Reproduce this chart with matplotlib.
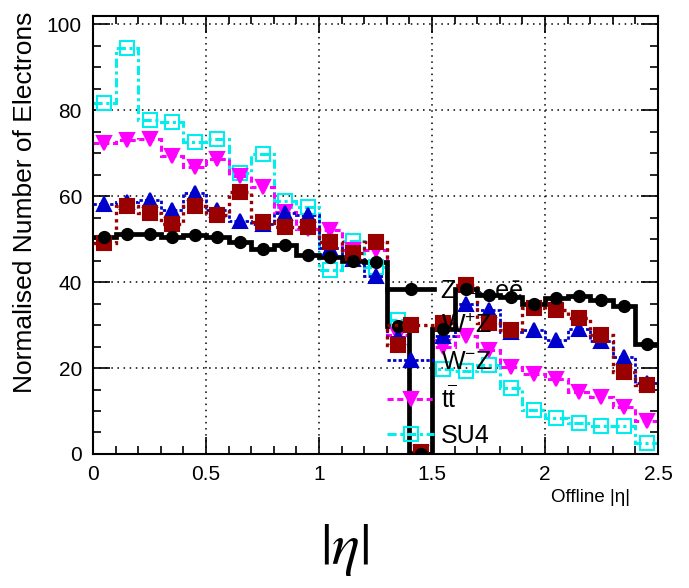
import numpy as np
import matplotlib
matplotlib.use('Agg')
import matplotlib.pyplot as plt
from matplotlib.lines import Line2D
from matplotlib.ticker import MultipleLocator

plt.rcParams['font.family'] = ['Liberation Sans', 'DejaVu Sans']
plt.rcParams['mathtext.fontset'] = 'custom'
plt.rcParams['mathtext.rm'] = 'Liberation Sans'
plt.rcParams['mathtext.it'] = 'Liberation Sans:italic'

# 25 bins of offline |eta|, width 0.1
eta_edges = np.linspace(0.0, 2.5, 26)

zee = [50.5, 51.1, 51.1, 50.4, 51.0, 50.4, 49.4, 47.8, 48.6, 46.3,
       45.9, 44.9, 44.7, 29.8, 0.0, 29.0, 38.5, 37.0, 36.5, 35.0,
       36.3, 36.7, 35.8, 34.5, 25.7]
wpz = [49.0, 57.7, 56.0, 53.5, 57.7, 55.6, 61.0, 54.0, 52.9, 52.9,
       49.4, 46.7, 49.4, 25.3, 0.5, 30.5, 39.3, 30.5, 28.8, 33.9,
       33.5, 31.6, 27.6, 19.0, 16.0]
wmz = [58.1, 58.7, 59.2, 56.7, 60.8, 56.9, 54.2, 53.6, 56.0, 55.6,
       48.0, 45.5, 41.4, 27.3, 0.3, 27.5, 35.0, 33.5, 28.5, 28.8,
       26.6, 29.2, 26.2, 22.6, 16.5]
ttbar = [72.4, 73.0, 73.4, 69.3, 66.7, 68.6, 64.7, 62.2, 56.4, 52.3,
         52.1, 47.4, 47.5, 27.8, 0.3, 25.0, 27.5, 24.2, 20.3, 18.5,
         17.5, 14.5, 13.3, 11.0, 7.6]
su4 = [81.7, 94.6, 77.7, 77.3, 72.6, 73.3, 65.3, 69.9, 58.9, 57.4,
       42.8, 49.6, 43.5, 31.2, 0.3, 19.8, 19.3, 20.6, 15.4, 10.2,
       8.3, 7.1, 6.6, 6.5, 2.5]

labels = ['Z → eē', r'W$^{+}$Z', r'W$^{-}$Z', r't$\overline{\mathrm{t}}$', 'SU4']
colors = ['black', '#990000', '#0000cc', '#ff00ff', '#00eeee']

centers = 0.5 * (eta_edges[:-1] + eta_edges[1:])

fig = plt.figure(figsize=(6.89, 5.88), dpi=100)
ax = fig.add_axes([0.135, 0.228, 0.82, 0.745])

# drawn bottom-up: SU4 first, Z->ee on top
styles = [
    # values, color, linestyle, lw, marker, ms, filled
    (su4, colors[4], (0, (3, 1.2, 1, 1.2)), 2.2, 's', 10, False),
    (ttbar, colors[3], (0, (2, 1.2)), 2.2, 'v', 10, True),
    (wmz, colors[2], (0, (1.2, 0.8)), 2.0, '^', 9.5, True),
    (wpz, colors[1], (0, (1, 1.2)), 2.4, 's', 10.5, True),
    (zee, colors[0], '-', 3.4, 'o', 8, True),
]

handles = {}
for vals, c, ls, lw, mk, ms, filled in styles:
    ax.stairs(vals, eta_edges, baseline=None, color=c, linestyle=ls, linewidth=lw)
    ax.plot(centers, vals, linestyle='none', marker=mk, markersize=ms,
            markerfacecolor=c if filled else 'none', markeredgecolor=c,
            markeredgewidth=1.5)
    handles[c] = Line2D([], [], color=c, linestyle=ls, linewidth=lw, marker=mk,
                        markersize=ms, markerfacecolor=c if filled else 'none',
                        markeredgecolor=c, markeredgewidth=1.5)

leg = ax.legend([handles[c] for c in colors], labels, loc='upper left',
                bbox_to_anchor=(1.3, 40.8), bbox_transform=ax.transData,
                frameon=False, fontsize=18, numpoints=1, handlelength=1.9,
                handletextpad=0.28, labelspacing=0.45, borderpad=0,
                borderaxespad=0)

ax.set_xlim(0, 2.5)
ax.set_ylim(0, 102)
ax.xaxis.set_major_locator(MultipleLocator(0.5))
ax.xaxis.set_minor_locator(MultipleLocator(0.1))
ax.yaxis.set_major_locator(MultipleLocator(20))
ax.yaxis.set_minor_locator(MultipleLocator(5))
ax.set_xticks([0, 0.5, 1, 1.5, 2, 2.5], ['0', '0.5', '1', '1.5', '2', '2.5'])
ax.tick_params(which='both', direction='in', top=True, right=True,
               labelsize=15, width=1.2)
ax.tick_params(which='major', length=12)
ax.tick_params(which='minor', length=6)
ax.tick_params(axis='x', pad=8)
ax.tick_params(axis='y', pad=8)
ax.grid(True, which='major', color='black', linestyle=(0, (1, 3)), linewidth=1.1)
ax.set_axisbelow(True)
for sp in ax.spines.values():
    sp.set_linewidth(1.5)

ax.set_ylabel('Normalised Number of Electrons', fontsize=19, loc='top')
ax.yaxis.set_label_coords(-0.1, 1.01)
ax.set_xlabel('Offline |η|', fontsize=13.5, loc='right')
ax.xaxis.set_label_coords(0.95, -0.08)

fig.text(0.5, 0.065, r'$|\eta|$', fontsize=42, ha='center', va='center',
         math_fontfamily='stix')

fig.savefig('out.png', dpi=100)
